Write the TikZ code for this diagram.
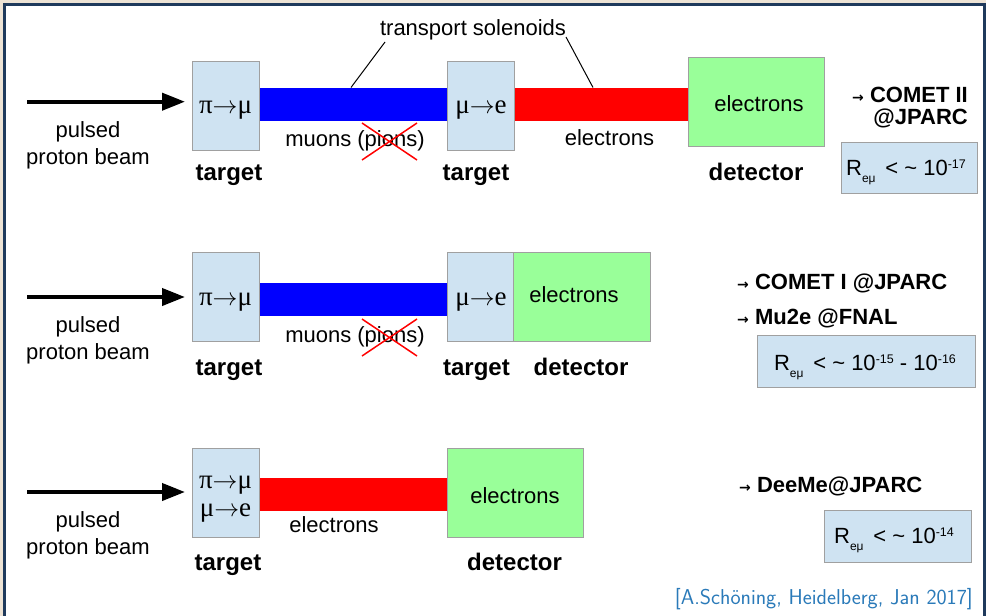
\documentclass[tikz,border=0pt]{standalone}
\usepackage{fontspec}
\setmainfont{Liberation Sans}
\newfontfamily\serifgr{Liberation Serif}
\newfontfamily\arrowfont{DejaVu Sans}
\usetikzlibrary{arrows.meta}

\definecolor{tgtblue}{HTML}{CFE3F2}
\definecolor{detgreen}{HTML}{99FF99}
\definecolor{framenavy}{HTML}{1F3A5C}
\definecolor{paper}{HTML}{EDE3D5}
\definecolor{citeblue}{HTML}{2A7AB9}
\definecolor{boxgray}{HTML}{A0A0A0}

\newcommand\txtfont{\fontsize{22}{26}\selectfont}
\newcommand\lblfont{\bfseries\fontsize{24}{28}\selectfont}
\newcommand\expfont{\bfseries\fontsize{22}{26}\selectfont}
\newcommand\rxnfont{\serifgr\fontsize{27}{30}\selectfont}
\newcommand\citefont{\sffamily\fontsize{21.5}{24}\selectfont}
\newcommand\smallto{{\arrowfont\fontsize{14}{14}\selectfont →}}
% reaction arrow between two particles
\newcommand\rxn[2]{#1$\rightarrow$#2}
% R_{e mu} < ~ limit
\newcommand\Rlim[1]{R\raisebox{-7pt}{\fontsize{12}{12}\selectfont eμ}\, < \textasciitilde{} #1}
\newcommand\tenp[1]{10\raisebox{6.5pt}{\fontsize{12.5}{12.5}\selectfont #1}}

\tikzset{
  box/.style={draw=boxgray, line width=1pt, inner sep=0pt, anchor=north west},
  target/.style={box, fill=tgtblue, minimum width=67pt, minimum height=89pt},
  det/.style={box, fill=detgreen, minimum height=89pt},
  bar/.style={inner sep=0pt, anchor=north west, draw=none, minimum height=33pt},
  txt/.style={inner sep=0pt, anchor=base, font=\txtfont},
  lbl/.style={inner sep=0pt, anchor=base, font=\lblfont},
  rxnlbl/.style={inner sep=0pt, anchor=base, font=\rxnfont},
  expt/.style={inner sep=0pt, font=\expfont},
  rbox/.style={box, fill=tgtblue},
  beam/.style={line width=4pt, -{Triangle[length=23pt,width=17pt]}, shorten >=7pt},
  leader/.style={line width=1pt},
  strike/.style={red, line width=1.5pt},
}

\begin{document}
\begin{tikzpicture}[x=1pt,y=-1pt]
\useasboundingbox (0,0) rectangle (986,616);
\clip (0,0) rectangle (986,616);
% slide background and frame
\fill[paper] (0,0) rectangle (986,616);
\draw[framenavy, line width=2.7pt, fill=white] (4.3,4.7) rectangle (984.4,640);

% ---------------- row 1: COMET II ----------------
\node[bar, fill=blue, minimum width=188pt] (mu1) at (259,87.5) {};
\node[bar, fill=red, minimum width=174pt] (el1) at (514,87.5) {};
\node[target] (ta1) at (192,61) {};
\node[target] (tb1) at (447,61) {};
\node[det, minimum width=136pt] (d1) at (688,57) {};
\node[rxnlbl] (ra1) at (225.5,113) {\rxn{π}{μ}};
\node[rxnlbl] (rb1) at (481,113) {\rxn{μ}{e}};
\node[txt] (de1) at (759,111) {electrons};
\coordinate (src1) at (27,101.7);
\draw[beam] (src1) -- (src1 -| ta1.west);
\node[txt] (pa1) at (88,137) {pulsed};
\node[txt] (pb1) at (88,164) {proton beam};
\node[lbl] (lt1) at (229,180) {target};
\node[lbl] (lu1) at (476,180) {target};
\node[lbl] (ld1) at (756,180) {detector};
\node[txt] (mn1) at (355,146) {muons (pions)};
\draw[strike] (362,123) -- (417,160) (417,123) -- (362,160);
\node[txt] (ee1) at (609.5,145) {electrons};
\node[txt] (ts) at (473,35) {transport solenoids};
\coordinate (tsl) at (385,42);
\coordinate (tsr) at (566,37);
\coordinate (mu1t) at (351,87.5);
\coordinate (el1t) at (593,87.5);
\draw[leader] (tsl) -- (mu1t);
\draw[leader] (tsr) -- (el1t);
\node[expt, anchor=base east] (x1a) at (968,102) {\smallto\ COMET II};
\node[expt, anchor=base east] (x1b) at (968,124) {@JPARC};
\node[rbox, minimum width=136pt, minimum height=51pt] (r1) at (841,142) {};
\node[txt] (rt1) at (906,175) {\Rlim{\tenp{-17}}};

% ---------------- row 2: COMET I / Mu2e ----------------
\node[bar, fill=blue, minimum width=188pt] (mu2) at (259,283) {};
\node[target] (ta2) at (192,252) {};
\node[target] (tb2) at (447,252) {};
\node[det, minimum width=137pt] (d2) at (513,252) {};
\node[rxnlbl] (ra2) at (225.5,305) {\rxn{π}{μ}};
\node[rxnlbl] (rb2) at (481,305) {\rxn{μ}{e}};
\node[txt] (de2) at (574,302) {electrons};
\coordinate (src2) at (27,297);
\draw[beam] (src2) -- (src2 -| ta2.west);
\node[txt] (pa2) at (88,332) {pulsed};
\node[txt] (pb2) at (88,359) {proton beam};
\node[lbl] (lt2) at (229,375) {target};
\node[lbl] (lu2) at (476.5,375) {target};
\node[lbl] (ld2) at (581,375) {detector};
\node[txt] (mn2) at (355,342) {muons (pions)};
\draw[strike] (362,319) -- (417,356) (417,319) -- (362,356);
\node[expt, anchor=base west] (x2a) at (737,289) {\smallto\ COMET I @JPARC};
\node[expt, anchor=base west] (x2b) at (737,324) {\smallto\ Mu2e @FNAL};
\node[rbox, minimum width=218pt, minimum height=52pt] (r2) at (757,335) {};
\node[txt] (rt2) at (865,370) {\Rlim{\tenp{-15} - \tenp{-16}}};

% ---------------- row 3: DeeMe ----------------
\node[bar, fill=red, minimum width=188pt] (el3) at (259,477.5) {};
\node[target] (ta3) at (192,448) {};
\node[det, minimum width=136pt] (d3) at (447,448) {};
\node[rxnlbl] (ra3) at (225.5,488) {\rxn{π}{μ}};
\node[rxnlbl] (rb3) at (225.5,516) {\rxn{μ}{e}};
\node[txt] (de3) at (515,503) {electrons};
\coordinate (src3) at (27,492);
\draw[beam] (src3) -- (src3 -| ta3.west);
\node[txt] (pa3) at (88,527) {pulsed};
\node[txt] (pb3) at (88,554) {proton beam};
\node[txt] (ee3) at (334,532) {electrons};
\node[lbl] (lt3) at (228,570) {target};
\node[lbl] (ld3) at (514.5,570) {detector};
\node[expt, anchor=base west] (x3a) at (739,492) {\smallto\ DeeMe@JPARC};
\node[rbox, minimum width=147pt, minimum height=52pt] (r3) at (824,510) {};
\node[txt] (rt3) at (894,543) {\Rlim{\tenp{-14}}};

% reference
\node[inner sep=0pt, anchor=base east, font=\citefont, text=citeblue] (cite) at (973,604) {[A.Schöning, Heidelberg, Jan 2017]};
\end{tikzpicture}
\end{document}
